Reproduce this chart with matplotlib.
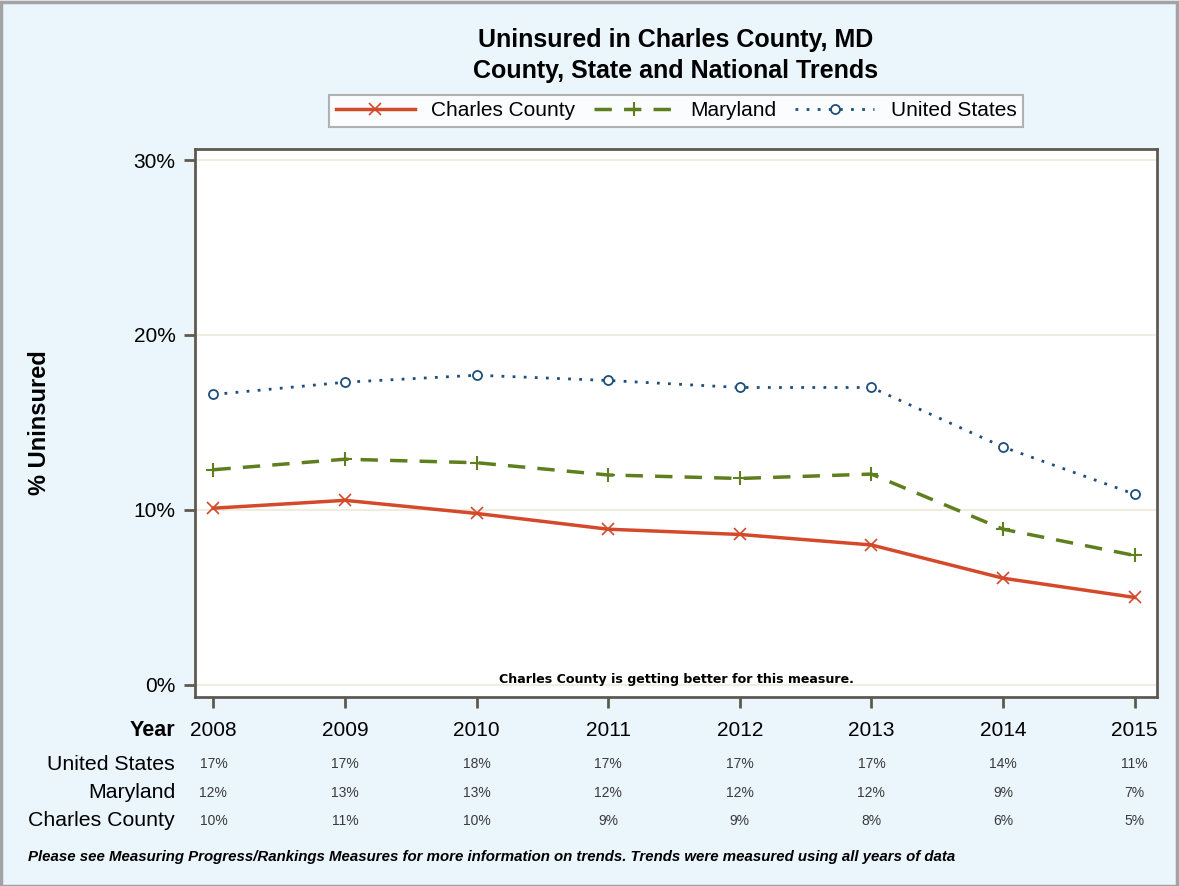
import matplotlib
matplotlib.use("Agg")
import matplotlib.pyplot as plt
from matplotlib.patches import Rectangle

# uninsured rates (%) by year
years = [2008, 2009, 2010, 2011, 2012, 2013, 2014, 2015]
us_rate = [16.6, 17.3, 17.7, 17.4, 17.0, 17.0, 13.6, 10.9]
md_rate = [12.3, 12.9, 12.7, 12.0, 11.8, 12.05, 8.9, 7.4]
cc_rate = [10.1, 10.55, 9.8, 8.9, 8.6, 8.0, 6.1, 5.0]
y_ticks = [0, 10, 20, 30]

plt.rcParams['font.family'] = ['Liberation Sans', 'DejaVu Sans']

W, H = 1179, 886
fig = plt.figure(figsize=(W / 100, H / 100), dpi=100)
fig.patch.set_facecolor('#EAF5FC')
fig.patches.append(Rectangle((0.5 / W, 0.5 / H), 1 - 2.5 / W, 1 - 2.5 / H,
                             transform=fig.transFigure, fill=False,
                             edgecolor='#A3A3A3', linewidth=2.5))

def fx(px):
    return px / W

def fy(py):
    return 1 - py / H

ax = fig.add_axes([fx(195), fy(697), fx(1157 - 195), (697 - 149) / H])
ax.set_facecolor('white')

frame = '#5F5A50'
for s in ax.spines.values():
    s.set_color(frame)
    s.set_linewidth(2)

ax.set_xlim(2007.86, 2015.17)
ax.set_ylim(-0.69, 30.63)
for t in y_ticks:
    ax.axhline(t, color='#EFEDDF', linewidth=1.5, zorder=0)

ax.plot(years, cc_rate, color='#D5492B', linewidth=2.5, marker='x',
        markersize=9, markeredgewidth=1.2, label='Charles County', zorder=3)
ax.plot(years, md_rate, color='#5F7E1E', linewidth=2.5, linestyle=(0, (5, 3.5)),
        marker='+', markersize=10, markeredgewidth=1.5, label='Maryland', zorder=3)
ax.plot(years, us_rate, color='#1E4E7A', linewidth=2, linestyle=(0, (1, 3)),
        marker='o', markersize=6.5, markerfacecolor='white',
        markeredgewidth=1.3, label='United States', zorder=3)

ax.set_yticks(y_ticks)
ax.set_yticklabels([f'{t}%' for t in y_ticks], fontsize=15)
ax.set_xticks(years)
ax.set_xticklabels([])
ax.tick_params(axis='both', direction='out', length=8, width=2, color=frame)
ax.tick_params(axis='y', pad=6)

fig.text(fx(676), fy(679), 'Charles County is getting better for this measure.',
         ha='center', va='center', fontsize=9.1, fontweight='bold',
         family='DejaVu Sans')

fig.text(fx(40), fy(423), '% Uninsured', rotation=90, ha='center',
         va='center', fontsize=17, fontweight='bold')

fig.text(fx(676), fy(40), 'Uninsured in Charles County, MD', ha='center',
         va='center', fontsize=18, fontweight='bold')
fig.text(fx(676), fy(71), 'County, State and National Trends', ha='center',
         va='center', fontsize=18, fontweight='bold')

leg = fig.legend(loc='center', bbox_to_anchor=(fx(676), fy(111)), ncol=3,
                 fontsize=15, frameon=True, fancybox=False,
                 handlelength=3.8, columnspacing=0.9, borderpad=0.3)
leg.get_frame().set_edgecolor('#A0A0A0')
leg.get_frame().set_linewidth(1.5)

# data table under the axis
xt = ax.get_xaxis_transform()
fig.text(fx(175), fy(730), 'Year', ha='right', va='center',
         fontsize=15.5, fontweight='bold')
rows = [('United States', us_rate, 764), ('Maryland', md_rate, 793),
        ('Charles County', cc_rate, 821)]
for name, vals, py in rows:
    fig.text(fx(175), fy(py), name, ha='right', va='center', fontsize=15.3)
for i, yr in enumerate(years):
    xf = fig.transFigure.inverted().transform(xt.transform((yr, 0)))[0]
    fig.text(xf, fy(730), str(yr), ha='center', va='center', fontsize=15)
    for name, vals, py in rows:
        fig.text(xf, fy(py), f'{round(vals[i])}%', ha='center', va='center',
                 fontsize=10, color='#3A3A3A')

fig.text(fx(28), fy(857),
         'Please see Measuring Progress/Rankings Measures for more information'
         ' on trends. Trends were measured using all years of data',
         ha='left', va='center', fontsize=10.8, fontweight='bold',
         style='italic')

fig.savefig('out.png', dpi=100, facecolor=fig.get_facecolor())
